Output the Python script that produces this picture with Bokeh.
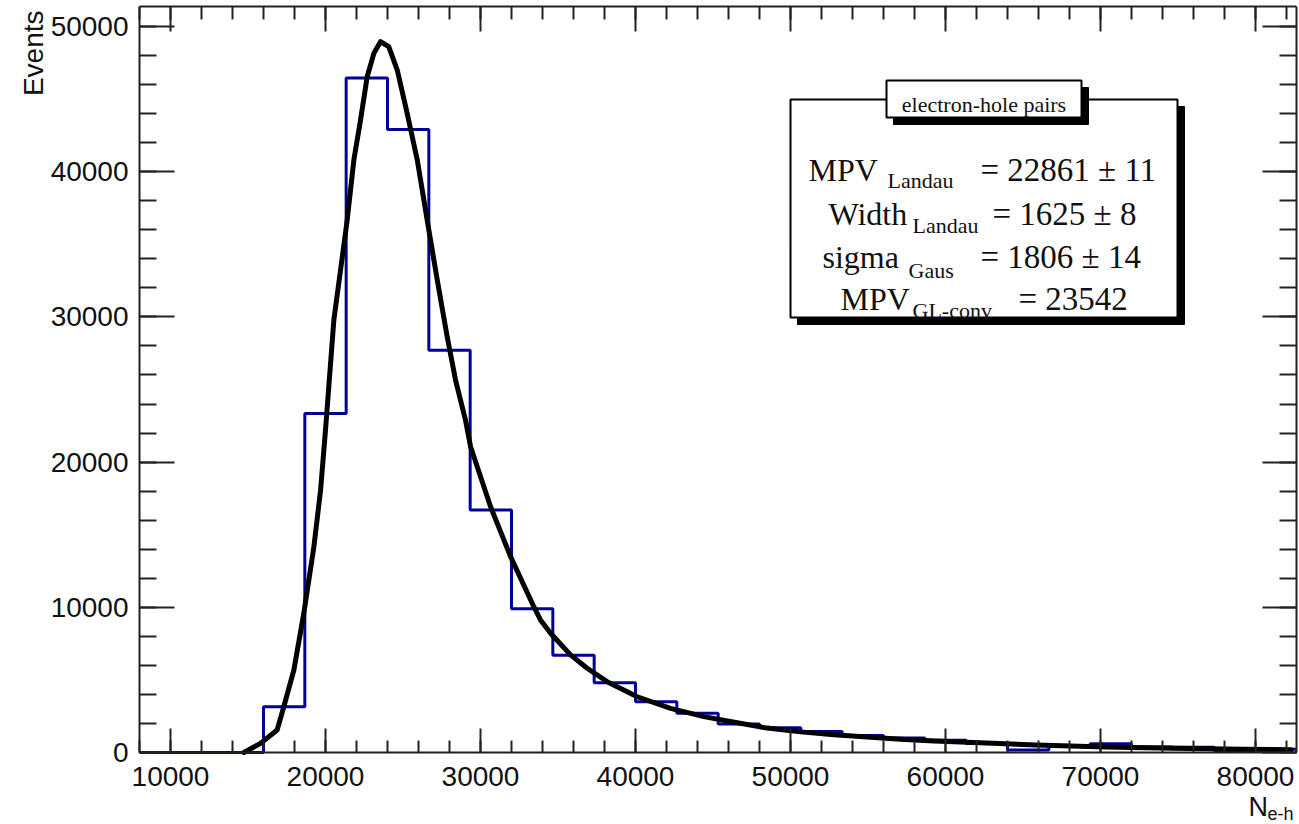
import numpy as np
from bokeh.plotting import figure
from bokeh.models import Label, LinearAxis, SingleIntervalTicker, Range1d
from bokeh.embed import file_html
from bokeh.resources import INLINE

# ---------------- data ----------------
bin_edges = [8000, 10667, 13333, 16000, 18667, 21333, 24000, 26667, 29333, 32000,
             34667, 37333, 40000, 42667, 45333, 48000, 50667, 53333, 56000, 58667,
             61333, 64000, 66667, 69333, 72000, 74667, 77333, 80000, 82667]
bin_counts = [0, 0, 0, 3150, 23350, 46450, 42900, 27700, 16700, 9900,
              6700, 4800, 3500, 2700, 1960, 1710, 1440, 1170, 1000, 840,
              620, 180, 420, 600, 380, 370, 120, 220]

fit_x = [14730, 15810, 16880, 17310, 17960, 18600, 19250, 19680, 20000,
         20540, 20970, 21400, 21830, 22260, 22690, 23120, 23550, 24080, 24630,
         25270, 25920, 26560, 27210, 27850, 28390, 29030, 29360, 30650, 31940,
         33440, 33870, 34520, 35810, 36880, 38170, 40110, 42260, 44410, 46560,
         48500, 50650, 52800, 54950, 57100, 59250, 61400, 65850, 70300, 74750,
         79200, 82300]
fit_y = [0, 630, 1550, 3150, 5680, 9590, 14170, 18040, 22210,
         29790, 33230, 36670, 40810, 43560, 46540, 48150, 48950, 48610, 47000,
         44020, 40810, 36670, 32540, 28640, 25650, 22900, 21060, 16930, 13490,
         10040, 9130, 8210, 6720, 5800, 4880, 3840, 3040, 2470, 2050,
         1680, 1420, 1230, 1060, 920, 800, 700, 510, 380, 300,
         230, 190]

stats_title = "electron-hole pairs"
stat_names = ["MPV", "Width", "sigma", "MPV"]
stat_subs = ["Landau", "Landau", "Gaus", "GL-conv"]
stat_values = ["= 22861 \u00b1 11", "= 1625 \u00b1 8", "= 1806 \u00b1 14", "= 23542"]

x_title_main = "N"
x_title_sub = "e-h"
y_title = "Events"

# ---------------- layout ----------------
FIG_W, FIG_H = 1298, 822
FRAME_TOP = 6
BOX_LEFT, BOX_RIGHT = 139, 1296     # page columns of the plotting box
AXIS_Y_PAGE = 752                   # page row of the value 0
PX_PER_X = 0.0155                   # pixels per unit on x
PX_PER_Y = 0.01452                  # pixels per unit on y
X0 = 8000.0
XR = X0 + (BOX_RIGHT - BOX_LEFT) / PX_PER_X
Y1 = (AXIS_Y_PAGE - FRAME_TOP) / PX_PER_Y


def dx(px):
    return X0 + (px - BOX_LEFT) / PX_PER_X


def dy(py):
    return (AXIS_Y_PAGE - py) / PX_PER_Y


# the drawing frame covers the whole canvas so that texts in the margins are not clipped;
# the visible axes sit at the edges of the plotting box
p = figure(frame_width=FIG_W, frame_height=FIG_H - FRAME_TOP,
           x_range=Range1d(dx(0), dx(FIG_W)), y_range=Range1d(dy(FIG_H), Y1),
           output_backend="svg", toolbar_location=None,
           min_border_left=0, min_border_right=0,
           min_border_top=FRAME_TOP, min_border_bottom=0,
           background_fill_color="white", border_fill_color="white")
p.xgrid.visible = False
p.ygrid.visible = False
p.outline_line_color = None

AX_COLOR = "#222222"
TXT = "#111111"
SANS = "Liberation Sans"
SERIF = "Liberation Serif"


def style_axis(ax, major_len, minor_len, labels=True):
    ax.axis_line_color = AX_COLOR
    ax.axis_line_width = 2
    ax.major_tick_line_color = AX_COLOR
    ax.minor_tick_line_color = AX_COLOR
    ax.major_tick_line_width = 2
    ax.minor_tick_line_width = 2
    ax.major_tick_in = major_len
    ax.major_tick_out = 0
    ax.minor_tick_in = minor_len
    ax.minor_tick_out = 0
    if labels:
        ax.major_label_text_font = SANS
        ax.major_label_text_font_size = "28px"
        ax.major_label_text_color = TXT
    else:
        ax.major_label_text_color = None
        ax.major_label_text_font_size = "1px"
        ax.major_label_standoff = 0


def ticker():
    return SingleIntervalTicker(interval=10000, num_minor_ticks=5)


xb = p.xaxis[0]
xb.ticker = ticker()
style_axis(xb, 24, 12)
xb.major_label_standoff = 14
xb.fixed_location = 0
xb.bounds = (X0, XR)

yl = p.yaxis[0]
yl.ticker = ticker()
style_axis(yl, 35, 17)
yl.major_label_standoff = 11
yl.fixed_location = X0
yl.bounds = (0, Y1)

xt = LinearAxis(ticker=ticker(), bounds=(X0, XR))
style_axis(xt, 25, 13, labels=False)
p.add_layout(xt, "above")

yr = LinearAxis(ticker=ticker(), bounds=(0, Y1), fixed_location=XR)
style_axis(yr, 34, 17, labels=False)
p.add_layout(yr, "right")

# histogram outline
edges = np.array(bin_edges, dtype=float)
counts = np.array(bin_counts, dtype=float)
hx = np.repeat(edges, 2)[1:-1]
hy = np.repeat(counts, 2)
p.line(np.minimum(hx, XR), hy, line_color="#000099", line_width=3)

# fitted curve
p.line(fit_x, fit_y, line_color="black", line_width=5, line_join="round", line_cap="round")

# stats box (shadow + box)
SH = 7
p.quad(left=[dx(790 + SH)], right=[dx(1177 + SH)], top=[dy(99 + SH)], bottom=[dy(317 + SH)],
       fill_color="black", line_color="black")
p.quad(left=[dx(790)], right=[dx(1177)], top=[dy(99)], bottom=[dy(317)],
       fill_color="white", line_color="black", line_width=2)
p.quad(left=[dx(886 + SH)], right=[dx(1081 + SH)], top=[dy(80 + SH)], bottom=[dy(117 + SH)],
       fill_color="black", line_color="black")
p.quad(left=[dx(886)], right=[dx(1081)], top=[dy(80)], bottom=[dy(117)],
       fill_color="white", line_color="black", line_width=2)

p.add_layout(Label(x=dx(983.5), y=dy(104), text=stats_title, text_font=SERIF,
                   text_font_size="22px", text_align="center", text_baseline="alphabetic",
                   text_color=TXT))

name_x = [808, 828, 822, 840]
sub_x = [887, 912, 908, 912]
val_x = [980, 992, 980, 1018]
base_y = [169, 213, 256, 298]
sub_dy = [11, 12, 14, 12]
for i in range(4):
    p.add_layout(Label(x=dx(name_x[i]), y=dy(base_y[i]), text=stat_names[i], text_font=SERIF,
                       text_font_size="32px", text_baseline="alphabetic", text_color=TXT))
    p.add_layout(Label(x=dx(sub_x[i]), y=dy(base_y[i] + sub_dy[i]), text=stat_subs[i], text_font=SERIF,
                       text_font_size="22px", text_baseline="alphabetic", text_color=TXT))
    p.add_layout(Label(x=dx(val_x[i]), y=dy(base_y[i]), text=stat_values[i], text_font=SERIF,
                       text_font_size="33px", text_baseline="alphabetic", text_color=TXT))

# axis titles
p.add_layout(Label(x=dx(33), y=dy(10), text=y_title, angle=90, angle_units="deg",
                   text_align="right", text_baseline="alphabetic", text_font=SANS,
                   text_font_size="28px", text_color=TXT))
p.add_layout(Label(x=dx(1248), y=dy(806), text=x_title_main, text_font=SANS,
                   text_font_size="27px", text_baseline="alphabetic", text_color=TXT))
p.add_layout(Label(x=dx(1267), y=dy(813), text=x_title_sub, text_font=SANS,
                   text_font_size="18px", text_baseline="alphabetic", text_color=TXT))

open("out.html", "w").write(file_html(p, INLINE))
